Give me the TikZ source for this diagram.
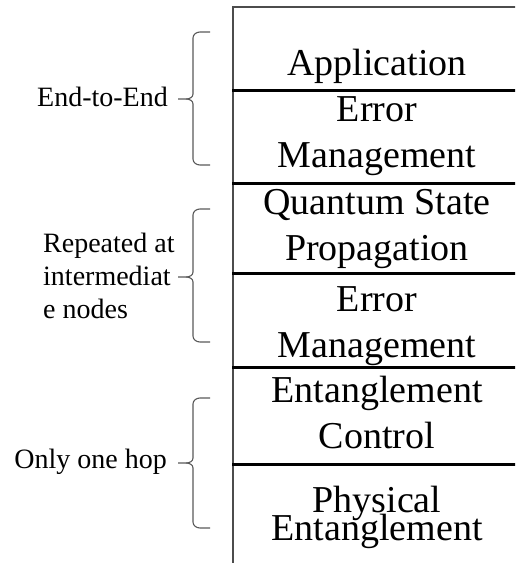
\documentclass[tikz,border=0pt]{standalone}
\usepackage{fontspec}
\setmainfont{Liberation Serif}

\tikzset{
  layer/.style={font=\fontsize{38}{46}\selectfont, align=center, anchor=north, inner sep=0pt},
  side/.style={font=\fontsize{28}{33}\selectfont, inner sep=0pt},
  sepline/.style={line width=3pt},
  frame/.style={line width=2pt, black!70},
  bracket/.style={line width=1.1pt, black!65},
}

\newcommand\layerbrace[3]{%
  \draw[bracket] (210,#1) -- (200,#1) to[out=180,in=90] (193,#1+6) -- (193,#2-5) to[out=-90,in=0] (186,#2) -- (178,#2);
  \draw[bracket] (186,#2) to[out=0,in=90] (193,#2+5) -- (193,#3-6) to[out=-90,in=180] (200,#3) -- (210,#3);}

\begin{document}
\begin{tikzpicture}[x=1pt, y=-1pt]
    \useasboundingbox (0,0) rectangle (515,563);
    \clip (0,0) rectangle (515,563);

    \draw[frame] (233,580) -- (233,7) -- (530,7);
    \foreach \y in {90,183,273,367,464}
      \draw[sepline] (232,\y) -- (530,\y);

    \node[layer] (app) at (377,49) {Application};
    \node[layer] (err1) at (377,96) {Error\\Management};
    \node[layer] (qsp) at (377,189) {Quantum State\\Propagation};
    \node[layer] (err2) at (377,286) {Error\\Management};
    \node[layer] (ent) at (377,376) {Entanglement\\Control};
    \node[layer] (phys) at (377,486) {Physical\\[-18pt]Entanglement};

    \node[side, anchor=base east] (e2e) at (168,106) {End-to-End};
    \node[side, anchor=north west, align=left] (rep) at (43,233) {Repeated at\\intermediat\\e nodes};
    \node[side, anchor=base east] (hop) at (167,468) {Only one hop};

    \layerbrace{32}{99}{165}
    \layerbrace{209}{277}{342}
    \layerbrace{398}{463}{528}
  \end{tikzpicture}
\end{document}
